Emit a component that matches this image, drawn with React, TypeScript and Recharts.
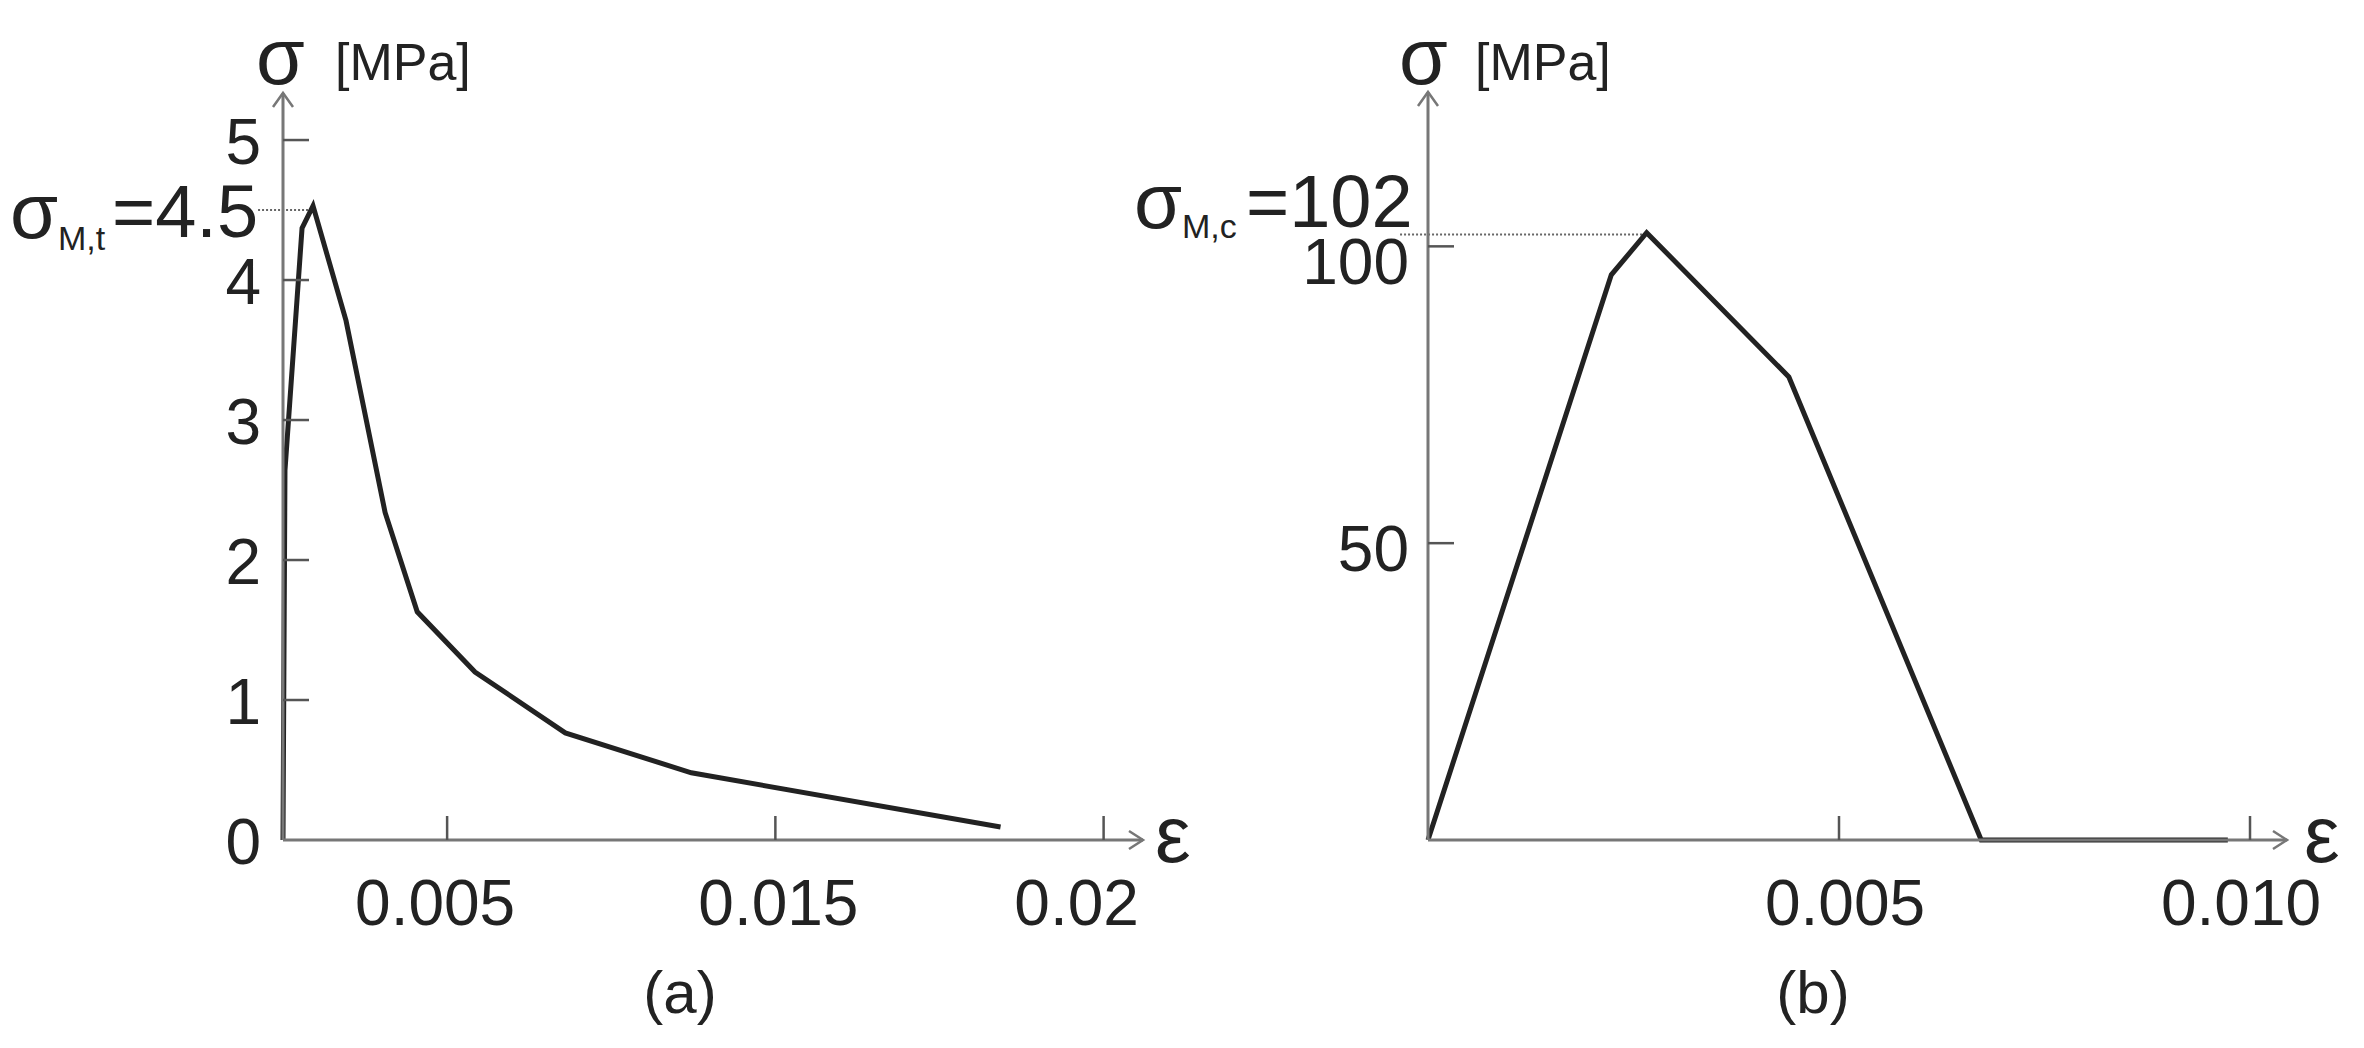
import React from "react";
import { LineChart, Line, XAxis, YAxis, ReferenceLine, ReferenceDot } from "recharts";

// ---- (a) tension curve ----
const strainA = [0, 0.00006, 0.00058, 0.000915, 0.00192, 0.00311, 0.00409, 0.00585, 0.0086, 0.01244, 0.02186];
const stressA = [0, 2.64, 4.37, 4.53, 3.71, 2.34, 1.63, 1.2, 0.765, 0.48, 0.093];
const xTicksA = [0.005, 0.015, 0.025];
const xTickLabelsA = ["0.005", "0.015", "0.02"];
const yTicksA = [0, 1, 2, 3, 4, 5];
const peakA = 4.5;
const peakStrainA = 0.000915;

// ---- (b) compression curve ----
const strainB = [0, 0.00223, 0.00266, 0.00439, 0.00673, 0.00973];
const stressB = [0, 95.2, 102.3, 78, 0, 0];
const xTicksB = [0.005, 0.01];
const xTickLabelsB = ["0.005", "0.010"];
const yTicksB = [50, 100];
const peakB = 102;
const peakStrainB = 0.00266;

const dataA = strainA.map((x, i) => ({ x, y: stressA[i] }));
const dataB = strainB.map((x, i) => ({ x, y: stressB[i] }));

const FONT = "'Liberation Sans', Arial, Helvetica, sans-serif";
const AXIS = "#777777";
const TICK = "#555555";
const INK = "#222222";

const XTick = (props: any) => {
  const { x, y, payload, ticks, labels, shifts } = props;
  const idx = ticks.indexOf(payload.value);
  return (
    <g>
      <line x1={x} x2={x} y1={y} y2={y - 24} stroke={TICK} strokeWidth={2.5} />
      <text x={x + (shifts[idx] || 0)} y={y + 85} textAnchor="middle" fontSize={64} fill={INK} fontFamily={FONT}>
        {labels[idx]}
      </text>
    </g>
  );
};

const YTick = (props: any) => {
  const { x, y, payload, gap, dy, extra } = props;
  const v = payload.value;
  return (
    <g>
      {v !== 0 && <line x1={x} x2={x + 26} y1={y} y2={y} stroke={TICK} strokeWidth={2.5} />}
      <text x={x - gap} y={y + dy + ((extra && extra[v]) || 0)} textAnchor="end" fontSize={64} fill={INK} fontFamily={FONT}>
        {v}
      </text>
    </g>
  );
};

const ArrowRight = (p: any) => (
  <polyline points={`${p.cx - 14},${p.cy - 9} ${p.cx},${p.cy} ${p.cx - 14},${p.cy + 9}`} fill="none" stroke={AXIS} strokeWidth={2.5} />
);
const ArrowUp = (p: any) => (
  <polyline points={`${p.cx - 10},${p.cy + 14} ${p.cx},${p.cy} ${p.cx + 10},${p.cy + 14}`} fill="none" stroke={AXIS} strokeWidth={2.5} />
);

const X_MAX_A = 0.0262;
const Y_MAX_A = 5.336;
const X_MAX_B = 0.01045;
const Y_MAX_B = 126;

export default function App() {
  return (
    <div style={{ position: "absolute", left: 0, top: 0, width: 2364, height: 1048, background: "#fff" }}>
      <div style={{ position: "absolute", left: 0, top: 0 }}>
        <LineChart width={1190} height={1048} data={dataA} margin={{ top: 93, left: 282, right: 47, bottom: 207 }}>
          <XAxis
            dataKey="x"
            type="number"
            domain={[0, X_MAX_A]}
            ticks={xTicksA}
            height={1}
            tickSize={0}
            tickMargin={0}
            axisLine={{ stroke: AXIS, strokeWidth: 3 }}
            tickLine={false}
            interval={0}
            tick={<XTick ticks={xTicksA} labels={xTickLabelsA} shifts={[-12, 3, -27]} />}
          />
          <YAxis
            type="number"
            domain={[0, Y_MAX_A]}
            ticks={yTicksA}
            width={1}
            tickSize={0}
            tickMargin={0}
            axisLine={{ stroke: AXIS, strokeWidth: 3 }}
            tickLine={false}
            interval={0}
            tick={<YTick gap={22} dy={24} />}
          />
          <ReferenceLine
            segment={[{ x: -0.00076, y: peakA }, { x: peakStrainA, y: peakA }]}
            stroke="#666"
            strokeWidth={2}
            strokeDasharray="2 2"
            ifOverflow="visible"
          />
          <ReferenceDot x={X_MAX_A} y={0} ifOverflow="visible" shape={ArrowRight} />
          <ReferenceDot x={0} y={Y_MAX_A} ifOverflow="visible" shape={ArrowUp} />
          <Line dataKey="y" type="linear" dot={false} activeDot={false} stroke={INK} strokeWidth={5} isAnimationActive={false} />
        </LineChart>
      </div>
      <div style={{ position: "absolute", left: 1190, top: 0 }}>
        <LineChart width={1174} height={1048} data={dataB} margin={{ top: 92, left: 237, right: 77, bottom: 207 }}>
          <XAxis
            dataKey="x"
            type="number"
            domain={[0, X_MAX_B]}
            ticks={xTicksB}
            height={1}
            tickSize={0}
            tickMargin={0}
            axisLine={{ stroke: AXIS, strokeWidth: 3 }}
            tickLine={false}
            interval={0}
            tick={<XTick ticks={xTicksB} labels={xTickLabelsB} shifts={[6, -9]} />}
          />
          <YAxis
            type="number"
            domain={[0, Y_MAX_B]}
            ticks={yTicksB}
            width={1}
            tickSize={0}
            tickMargin={0}
            axisLine={{ stroke: AXIS, strokeWidth: 3 }}
            tickLine={false}
            interval={0}
            tick={<YTick gap={19} dy={28} extra={{ 100: 10 }} />}
          />
          <ReferenceLine
            segment={[{ x: -0.00034, y: peakB }, { x: peakStrainB, y: peakB }]}
            stroke="#666"
            strokeWidth={2}
            strokeDasharray="2 2"
            ifOverflow="visible"
          />
          <ReferenceDot x={X_MAX_B} y={0} ifOverflow="visible" shape={ArrowRight} />
          <ReferenceDot x={0} y={Y_MAX_B} ifOverflow="visible" shape={ArrowUp} />
          <Line dataKey="y" type="linear" dot={false} activeDot={false} stroke={INK} strokeWidth={5} isAnimationActive={false} />
        </LineChart>
      </div>
      <svg width={2364} height={1048} style={{ position: "absolute", left: 0, top: 0, pointerEvents: "none" }} fontFamily={FONT} fill={INK}>
        {/* chart (a) */}
        <text x={256} y={84} fontSize={79}>σ</text>
        <text x={335} y={80} fontSize={52}>[MPa]</text>
        <text x={10} y={238} fontSize={78}>σ</text>
        <text x={58} y={250} fontSize={34}>M,t</text>
        <text x={112} y={237} fontSize={74}>=4.5</text>
        <text x={1155} y={862} fontSize={80}>ε</text>
        <text x={680} y={1013} fontSize={60} textAnchor="middle">(a)</text>
        {/* chart (b) */}
        <text x={1399} y={84} fontSize={79}>σ</text>
        <text x={1475} y={80} fontSize={52}>[MPa]</text>
        <text x={1134} y={228} fontSize={78}>σ</text>
        <text x={1182} y={238} fontSize={34}>M,c</text>
        <text x={1246} y={227} fontSize={74}>=102</text>
        <text x={2304} y={862} fontSize={80}>ε</text>
        <text x={1813} y={1013} fontSize={60} textAnchor="middle">(b)</text>
      </svg>
    </div>
  );
}
